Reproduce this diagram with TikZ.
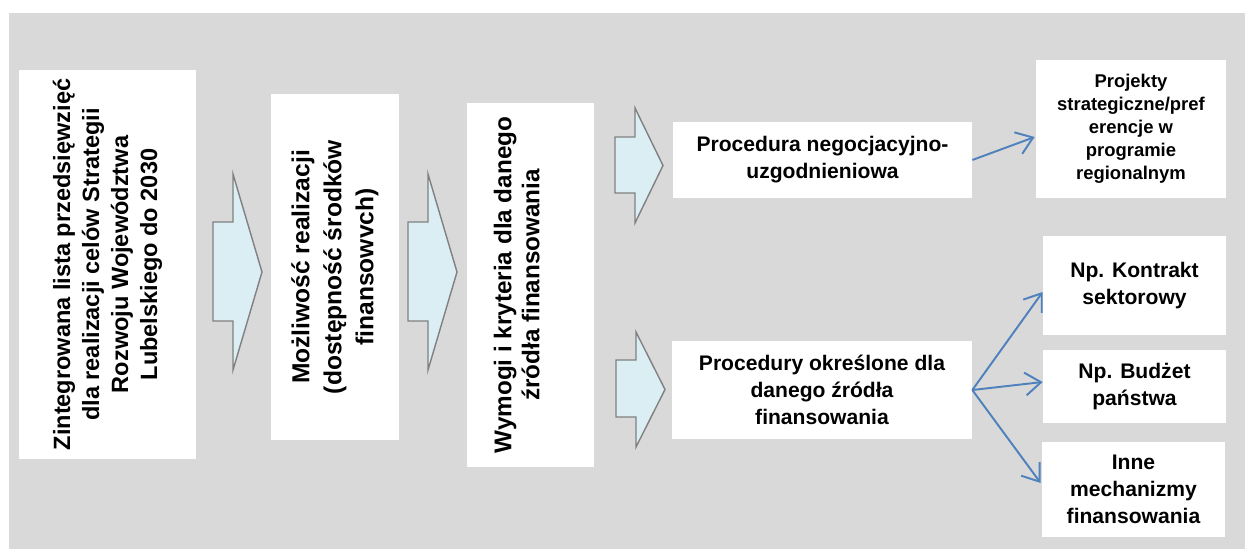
\documentclass[tikz,border=0pt]{standalone}
\usepackage{fontspec}
\setmainfont{Liberation Sans}
\usetikzlibrary{arrows.meta, calc}

\definecolor{fondo}{HTML}{D9D9D9}
\definecolor{relleno}{HTML}{DBEEF4}
\definecolor{borde}{HTML}{808080}
\definecolor{azul}{HTML}{4F81BD}

\begin{document}
\begin{tikzpicture}[x=0.02cm, y=-0.02cm, >={Straight Barb[length=9pt, width=13pt]},
  caja/.style={fill=white, inner sep=0pt, align=center, font=\bfseries\fontsize{12}{15.4}\selectfont},
  cajav/.style={caja, rotate=90},
  flecha/.style={fill=relleno, draw=borde, line width=0.8pt},
  conector/.style={->, draw=azul, line width=1.1pt}]
  % Fondo
  \useasboundingbox (0,0) rectangle (1245,549);
  \fill[white] (0,0) rectangle (1245,549);
  \fill[fondo] (9,13) rectangle (1245,549);

  % Flechas anchas
  \foreach \xa/\xb/\xt/\ya/\yb/\yc/\yd in {213/233/262/222/321/174/370, 408/428/457/222/321/174/370,
      615/635/663/137/193/108/223, 616/636/665/360/417/332/447}
    \draw[flecha] (\xa,\ya) -- (\xb,\ya) -- (\xb,\yc) -- (\xt,{(\yc+\yd)/2}) -- (\xb,\yd) -- (\xb,\yb) -- (\xa,\yb) -- cycle;

  % Cajas verticales
  \node[cajav, minimum width=7.78cm, minimum height=3.54cm, font=\bfseries\fontsize{13.4}{16.5}\selectfont] (lista) at (107.5,264.5)
    {Zintegrowana lista przedsięwzięć\\dla realizacji celów Strategii\\Rozwoju Województwa\\Lubelskiego do 2030};
  \node[cajav, minimum width=6.92cm, minimum height=2.56cm, font=\bfseries\fontsize{14}{18.2}\selectfont] (mozliwosc) at (335,267)
    {Możliwość realizacji\\(dostępność środków\\finansowvch)};
  \node[cajav, minimum width=7.28cm, minimum height=2.54cm, font=\bfseries\fontsize{13.8}{15.9}\selectfont] (wymogi) at (530.5,285)
    {Wymogi i kryteria dla danego\\źródła finansowania\\\mbox{}};

  % Procedury
  \node[caja, minimum width=5.98cm, minimum height=1.52cm] (proc1) at (822.5,160)
    {Procedura negocjacyjno-\\uzgodnieniowa};
  \node[caja, minimum width=6cm, minimum height=1.96cm] (proc2) at (822,390)
    {Procedury określone dla\\danego źródła\\finansowania};

  % Cajas de la derecha
  \node[caja, minimum width=3.8cm, minimum height=2.76cm, font=\bfseries\fontsize{10.5}{13.1}\selectfont] (projekty) at (1131,129)
    {Projekty\\strategiczne/pref\\erencje w\\programie\\regionalnym};
  \node[caja, minimum width=3.66cm, minimum height=1.98cm] (kontrakt) at (1134.5,285.5) {Np. Kontrakt\\sektorowy};
  \node[caja, minimum width=3.66cm, minimum height=1.46cm] (budzet) at (1134.5,386.5) {Np. Budżet\\państwa};
  \node[caja, minimum width=3.66cm, minimum height=1.9cm] (inne) at (1133.5,489.5) {Inne\\mechanizmy\\finansowania};

  % Conectores
  \draw[conector] (proc1.east) -- ($(projekty.west)+(-1,8)$);
  \draw[conector] (proc2.east) -- ($(kontrakt.west)+(0,6.5)$);
  \draw[conector] (proc2.east) -- ($(budzet.west)+(0,-4.5)$);
  \draw[conector] (proc2.east) -- ($(inne.west)+(-1,-6.5)$);
\end{tikzpicture}
\end{document}
